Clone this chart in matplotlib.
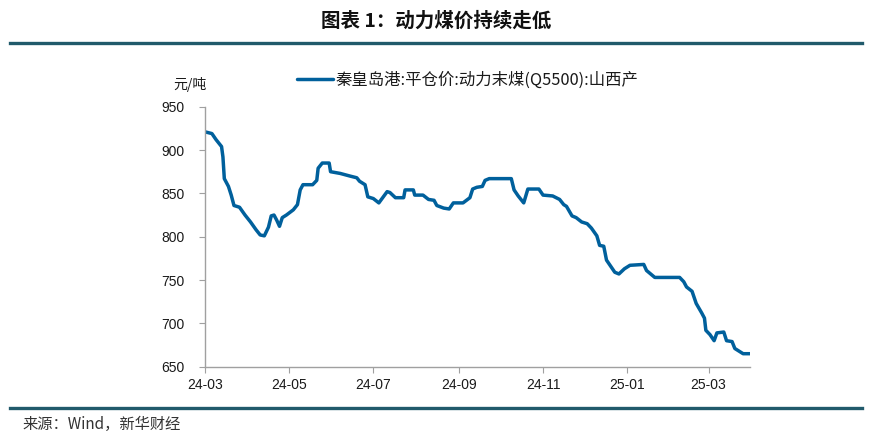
import matplotlib
matplotlib.use("Agg")
import matplotlib.pyplot as plt
import matplotlib.dates as mdates
import pandas as pd

plt.rcParams['font.family'] = ['Liberation Sans', 'Noto Sans CJK SC', 'DejaVu Sans']

# values (yuan / tonne)
dates = [
    '2024-03-01', '2024-03-06', '2024-03-09', '2024-03-13', '2024-03-14', '2024-03-15',
    '2024-03-18', '2024-03-20', '2024-03-22', '2024-03-26', '2024-03-30', '2024-04-03',
    '2024-04-07', '2024-04-10', '2024-04-13', '2024-04-16', '2024-04-18', '2024-04-20',
    '2024-04-22', '2024-04-24', '2024-04-26', '2024-04-29', '2024-05-04', '2024-05-07',
    '2024-05-09', '2024-05-11', '2024-05-18', '2024-05-21', '2024-05-22', '2024-05-25',
    '2024-05-30', '2024-05-31', '2024-06-07', '2024-06-14', '2024-06-19', '2024-06-21',
    '2024-06-25', '2024-06-27', '2024-07-01', '2024-07-05', '2024-07-11', '2024-07-13',
    '2024-07-17', '2024-07-23', '2024-07-24', '2024-07-30', '2024-07-31', '2024-08-06',
    '2024-08-10', '2024-08-14', '2024-08-16', '2024-08-21', '2024-08-25', '2024-08-28',
    '2024-09-04', '2024-09-09', '2024-09-11', '2024-09-14', '2024-09-18', '2024-09-20',
    '2024-09-23', '2024-10-09', '2024-10-11', '2024-10-14', '2024-10-18', '2024-10-21',
    '2024-10-29', '2024-11-01', '2024-11-08', '2024-11-13', '2024-11-16', '2024-11-18',
    '2024-11-22', '2024-11-25', '2024-11-29', '2024-12-03', '2024-12-06', '2024-12-10',
    '2024-12-12', '2024-12-15', '2024-12-17', '2024-12-20', '2024-12-23', '2024-12-26',
    '2024-12-30', '2025-01-03', '2025-01-13', '2025-01-15', '2025-01-21', '2025-02-08',
    '2025-02-11', '2025-02-13', '2025-02-17', '2025-02-20', '2025-02-24', '2025-02-26',
    '2025-02-27', '2025-03-02', '2025-03-05', '2025-03-07', '2025-03-12', '2025-03-14',
    '2025-03-18', '2025-03-20', '2025-03-26', '2025-03-31',
]
prices = [
    921, 919, 912, 904, 892, 867,
    858, 848, 836, 834, 825, 817,
    808, 802, 801, 811, 824, 825,
    819, 812, 822, 825, 831, 837,
    854, 860, 860, 865, 879, 885,
    885, 875, 873, 870, 868, 864,
    860, 846, 844, 839, 852, 851,
    845, 845, 854, 854, 848, 848,
    843, 842, 836, 833, 832, 839,
    839, 845, 855, 857, 858, 865,
    867, 867, 854, 847, 839, 855,
    855, 848, 847, 843, 837, 835,
    824, 822, 817, 815, 810, 801,
    790, 789, 773, 766, 759, 757,
    763, 767, 768, 761, 753, 753,
    748, 742, 737, 723, 712, 706,
    692, 687, 680, 689, 690, 680,
    679, 671, 665, 665,
]
series_name = '秦皇岛港:平仓价:动力末煤(Q5500):山西产'
y_ticks = [650, 700, 750, 800, 850, 900, 950]

x = pd.to_datetime(dates)
line_color = '#00609c'
frame_color = '#215a6b'
axis_gray = '#a0a0a0'
cjk = ['Noto Sans CJK SC', 'DejaVu Sans']

fig = plt.figure(figsize=(8.73, 4.45), dpi=100)
ax = fig.add_axes([205 / 873, 1 - 366.7 / 445, 545 / 873, 260 / 445])

ax.plot(x, prices, color=line_color, lw=2.5, solid_joinstyle='round',
        solid_capstyle='round', label=series_name)

ax.set_xlim(pd.Timestamp('2024-03-01'), pd.Timestamp('2025-03-31'))
ax.set_ylim(650, 950)
ax.set_yticks(y_ticks)
ax.xaxis.set_major_locator(mdates.MonthLocator(bymonth=[1, 3, 5, 7, 9, 11]))
ax.xaxis.set_major_formatter(mdates.DateFormatter('%y-%m'))

for s in ['top', 'right']:
    ax.spines[s].set_visible(False)
for s in ['left', 'bottom']:
    ax.spines[s].set_color(axis_gray)
    ax.spines[s].set_linewidth(1.0)
ax.tick_params(axis='both', colors=axis_gray, labelcolor='#1a1a1a',
               labelsize=10, length=4, direction='out')
ax.tick_params(axis='y', pad=11)
ax.tick_params(axis='x', pad=4)

leg = ax.legend(loc='lower left', bbox_to_anchor=(92 / 545, 1.07), frameon=False,
                handlelength=2.2, handletextpad=0.15, borderpad=0, borderaxespad=0,
                prop={'family': cjk, 'size': 11.8})
for t in leg.get_texts():
    t.set_color('#1a1a1a')

fig.text(190 / 873, 1 - 85 / 445, '元/吨', ha='center', va='center',
         fontsize=10, family=cjk, color='#1a1a1a')

fig.text(0.5, 1 - 21 / 445, '图表 1：动力煤价持续走低', ha='center', va='center',
         fontsize=14, family=cjk, color='#111111', fontweight='bold')

fig.add_artist(plt.Line2D([10 / 873, 862 / 873], [1 - 43 / 445] * 2,
                          color=frame_color, lw=2.4))
fig.add_artist(plt.Line2D([10 / 873, 862 / 873], [1 - 408 / 445] * 2,
                          color=frame_color, lw=2.4))

fig.text(22 / 873, 1 - 424 / 445, '来源：Wind，新华财经', ha='left', va='center',
         fontsize=11, family=cjk, color='#333333')

fig.savefig('out.png', dpi=100)
